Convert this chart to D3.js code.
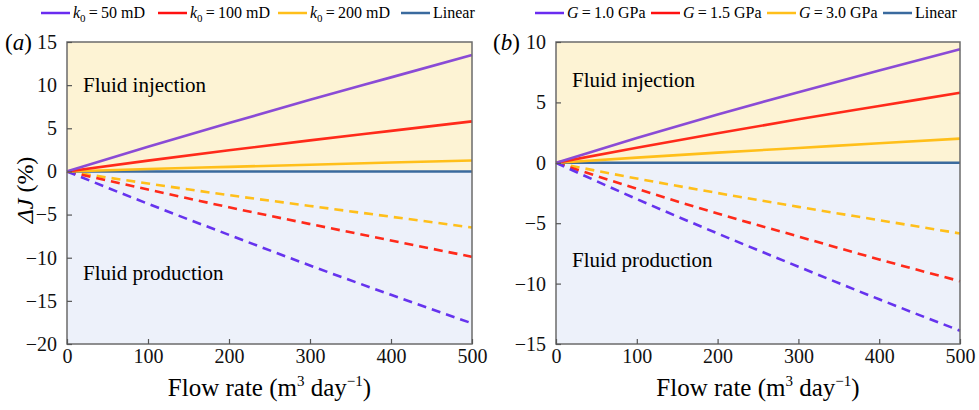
<!DOCTYPE html>
<html>
<head>
<meta charset="utf-8">
<script src="https://cdn.jsdelivr.net/npm/d3@7"></script>
<style>
  body { margin: 0; background: #fff; }
  svg { display: block; font-family: "Liberation Serif", "DejaVu Serif", serif; }
</style>
</head>
<body>
<svg id="chart" width="979" height="410"></svg>
<script>
// Data
const flowRate = [0, 100, 200, 300, 400, 500];
const xTicks = [0, 100, 200, 300, 400, 500];

// panel (a): permeability k0
const aInj50 = [0, 2.85, 5.6, 8.3, 10.9, 13.5];
const aInj100 = [0, 1.25, 2.45, 3.6, 4.7, 5.8];
const aInj200 = [0, 0.28, 0.53, 0.78, 1.03, 1.27];
const aPro50 = [0, -3.75, -7.35, -10.9, -14.3, -17.6];
const aPro100 = [0, -2.1, -4.15, -6.1, -8.0, -9.9];
const aPro200 = [0, -1.4, -2.75, -4.0, -5.25, -6.5];
const aYTicks = [15, 10, 5, 0, -5, -10, -15, -20];

// panel (b): shear modulus G
const bInj10 = [0, 2.05, 4.0, 5.85, 7.65, 9.4];
const bInj15 = [0, 1.25, 2.45, 3.6, 4.7, 5.8];
const bInj30 = [0, 0.43, 0.84, 1.23, 1.62, 2.0];
const bPro10 = [0, -3.0, -5.85, -8.6, -11.3, -13.9];
const bPro15 = [0, -2.15, -4.2, -6.1, -8.0, -9.8];
const bPro30 = [0, -1.3, -2.5, -3.65, -4.75, -5.85];
const bYTicks = [10, 5, 0, -5, -10, -15];

const linear = [0, 0, 0, 0, 0, 0];

const colPurple = '#8a4bd6', colPurpleD = '#6633ee';
const colRed = '#ff2a1a', colYellow = '#ffbf1a', colBlue = '#3a6a9e';

const svg = d3.select('#chart');

function drawPanel(opt) {
    const x = d3.scaleLinear().domain([0, 500]).range([opt.left, opt.right]);
    const y = d3.scaleLinear().domain(opt.yDomain).range([344, 42]);
    const g = svg.append('g');

    // shaded regions
    g.append('rect').attr('x', x(0)).attr('y', y(opt.yDomain[1]))
        .attr('width', x(500) - x(0)).attr('height', y(0) - y(opt.yDomain[1]))
        .attr('fill', '#fdf3d4');
    g.append('rect').attr('x', x(0)).attr('y', y(0))
        .attr('width', x(500) - x(0)).attr('height', y(opt.yDomain[0]) - y(0))
        .attr('fill', '#edf1fa');

    g.append('text').attr('x', x(0) + 16).attr('y', y(opt.injY)).attr('font-size', 21)
        .text('Fluid injection');
    g.append('text').attr('x', x(0) + 16).attr('y', y(opt.proY)).attr('font-size', 21)
        .text('Fluid production');

    const line = d3.line().curve(d3.curveMonotoneX)
        .x((d, i) => x(flowRate[i])).y(d => y(d));
    opt.series.forEach(s => {
        g.append('path').datum(s.values).attr('d', line)
            .attr('fill', 'none').attr('stroke', s.color).attr('stroke-width', 2.6)
            .attr('stroke-dasharray', s.dashed ? '9,6' : null);
    });

    // frame
    g.append('rect').attr('x', x(0)).attr('y', y(opt.yDomain[1]))
        .attr('width', x(500) - x(0)).attr('height', y(opt.yDomain[0]) - y(opt.yDomain[1]))
        .attr('fill', 'none').attr('stroke', '#6b6b6b').attr('stroke-width', 1.5);

    const xAxis = d3.axisBottom(x).tickValues(xTicks).tickSize(-5).tickPadding(10);
    const gx = g.append('g').attr('transform', `translate(0,${y(opt.yDomain[0])})`).call(xAxis);
    const yAxis = d3.axisLeft(y).tickValues(opt.yTicks).tickSize(-5).tickPadding(10)
        .tickFormat(d => d < 0 ? '\u2212' + Math.abs(d) : d);
    const gy = g.append('g').attr('transform', `translate(${x(0)},0)`).call(yAxis);
    [gx, gy].forEach(a => {
        a.attr('font-family', null);
        a.select('.domain').remove();
        a.selectAll('line').attr('stroke', '#555').attr('stroke-width', 1.2);
        a.selectAll('text').attr('font-size', 20).attr('fill', '#111');
    });
    gx.selectAll('text').attr('dy', '0.75em').attr('y', 4);

    // x title
    const xt = g.append('text').attr('x', (x(0) + x(500)) / 2).attr('y', 396)
        .attr('text-anchor', 'middle').attr('font-size', 25);
    xt.append('tspan').text('Flow rate (m');
    xt.append('tspan').attr('font-size', 15).attr('dy', -10).text('3');
    xt.append('tspan').attr('dy', 10).text(' day');
    xt.append('tspan').attr('font-size', 15).attr('dy', -10).text('\u22121');
    xt.append('tspan').attr('dy', 10).text(')');

    // panel label
    const pl = g.append('text').attr('x', opt.labelX).attr('y', 50).attr('font-size', 23);
    pl.append('tspan').text('(');
    pl.append('tspan').attr('font-style', 'italic').text(opt.label);
    pl.append('tspan').text(')');

    // legend
    const lg = g.append('g');
    opt.legend.forEach(item => {
        lg.append('line').attr('x1', item.x).attr('x2', item.x + 29).attr('y1', 13).attr('y2', 13)
            .attr('stroke', item.color).attr('stroke-width', 2.5);
        const t = lg.append('text').attr('x', item.x + 32).attr('y', 18).attr('font-size', 16);
        item.parts.forEach(p => {
            const ts = t.append('tspan').text(p.t);
            if (p.it) ts.attr('font-style', 'italic');
            if (p.sub) ts.attr('font-size', 11).attr('dy', 4);
            if (p.back) ts.attr('dy', -4);
        });
    });
    return { x, y };
}

const eq = '\u2009=\u2009';

drawPanel({
    left: 67, right: 472, yDomain: [-20, 15], yTicks: aYTicks,
    injY: 9.2, proY: -12.6, label: 'a', labelX: 5,
    series: [
        { values: aPro200, color: colYellow, dashed: true },
        { values: aPro100, color: colRed, dashed: true },
        { values: aPro50, color: colPurpleD, dashed: true },
        { values: linear, color: colBlue },
        { values: aInj200, color: colYellow },
        { values: aInj100, color: colRed },
        { values: aInj50, color: colPurple }
    ],
    legend: [
        { x: 41, color: '#6a2cf0', parts: [{ t: 'k', it: true }, { t: '0', sub: true }, { t: eq + '50 mD', back: true }] },
        { x: 158, color: '#ff1010', parts: [{ t: 'k', it: true }, { t: '0', sub: true }, { t: eq + '100 mD', back: true }] },
        { x: 278, color: colYellow, parts: [{ t: 'k', it: true }, { t: '0', sub: true }, { t: eq + '200 mD', back: true }] },
        { x: 401, color: colBlue, parts: [{ t: 'Linear' }] }
    ]
});

drawPanel({
    left: 556, right: 960, yDomain: [-15, 10], yTicks: bYTicks,
    injY: 6.3, proY: -8.6, label: 'b', labelX: 493,
    series: [
        { values: bPro30, color: colYellow, dashed: true },
        { values: bPro15, color: colRed, dashed: true },
        { values: bPro10, color: colPurpleD, dashed: true },
        { values: linear, color: colBlue },
        { values: bInj30, color: colYellow },
        { values: bInj15, color: colRed },
        { values: bInj10, color: colPurple }
    ],
    legend: [
        { x: 535, color: '#6a2cf0', parts: [{ t: 'G', it: true }, { t: eq + '1.0 GPa' }] },
        { x: 651, color: '#ff1010', parts: [{ t: 'G', it: true }, { t: eq + '1.5 GPa' }] },
        { x: 767, color: colYellow, parts: [{ t: 'G', it: true }, { t: eq + '3.0 GPa' }] },
        { x: 883, color: colBlue, parts: [{ t: 'Linear' }] }
    ]
});

// y title (panel a only)
const yt = svg.append('text').attr('transform', 'translate(33,190) rotate(-90)')
    .attr('text-anchor', 'middle').attr('font-size', 24);
yt.append('tspan').attr('font-style', 'italic').text('\u0394J');
yt.append('tspan').text(' (%)');
</script>
</body>
</html>
